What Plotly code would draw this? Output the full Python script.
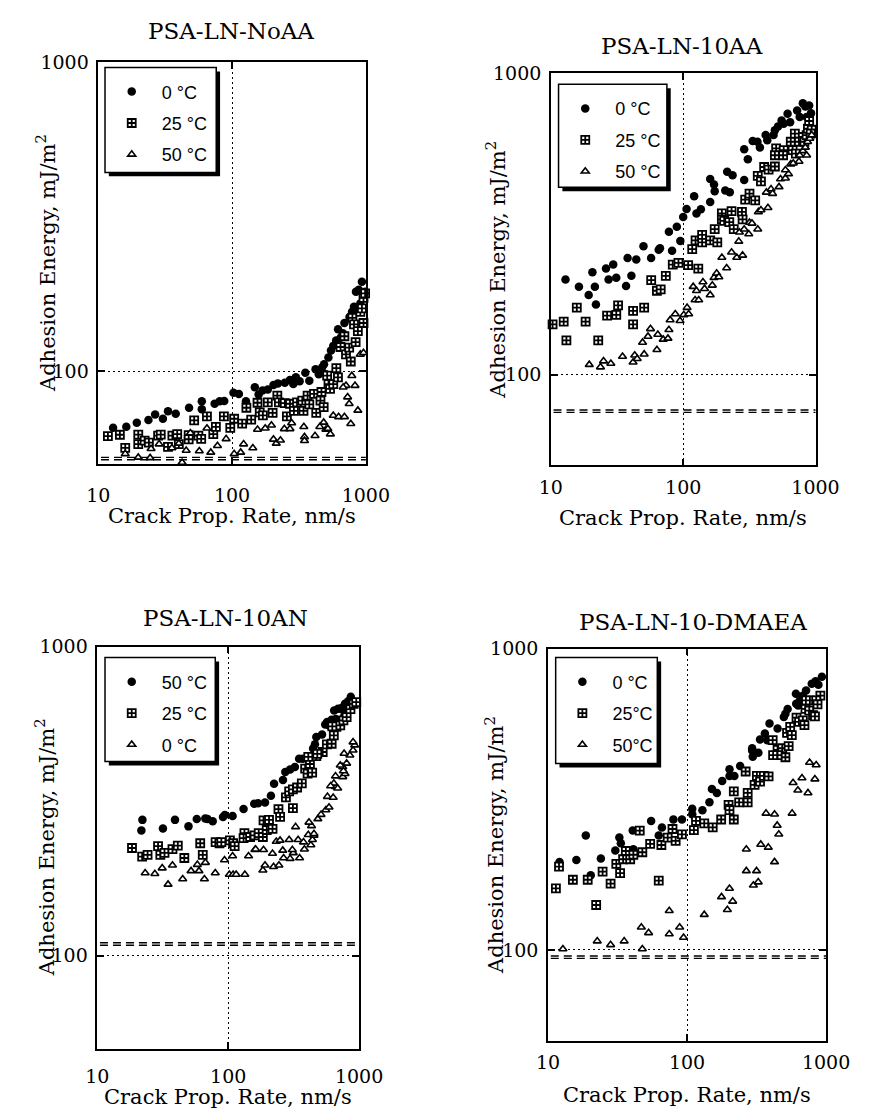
import math
import plotly.graph_objects as go

W, H = 875, 1111

# ---------------- data (x: crack propagation rate nm/s, y: adhesion energy mJ/m^2) ----------------
noaa_0_x = [12.9,16.2,19.4,23.7,26.6,30.4,33.2,37.9,47.7,59.4,59.4,74.1,80.9,87.4,102.5,112.5,127,148,158,169,185,204,220,248,271,287,300,320,353,378,421,445,471,487,503,525,549,571,600,620,648,673,692,755,789,816,844,886,935,961,988,910]
noaa_0_y = [65.7,66.2,68.2,69.7,72.6,70.3,74.3,73.0,76.3,80.1,75.4,78.6,80.1,80.3,85.4,84.6,80.1,88.9,84.2,86.7,87.4,90.4,91.5,92.0,93.8,91.0,95.7,92.9,99.0,93.3,101.7,98.0,103,105.6,98.0,110.9,117,121,126,137,128.5,133,143.5,150,156,162,181,184,195,175,181,166]
noaa_25_x = [11.8,14.5,15.9,19.9,19.9,22.2,23.9,28.0,29.3,33.2,35.8,38.9,40.0,47.4,47.4,56.0,58.8,64.9,52.1,72.4,75.7,86.9,97.0,103.7,119,128,139,155,161,170,185,201,218,224,248,257,271,290,306,335,342,367,378,410,426,458,466,484,514,526,540,571,602,619,647,692,711,751,772,794,816,839,872,910,935,961,988,961]
noaa_25_y = [61.8,62.4,56.6,62.5,58.2,59.7,58.8,62.0,62.5,57.0,62.0,62.7,58.2,60.3,62.2,62.0,60.5,71.6,69.5,62.7,66.2,71.6,65.7,70.3,67.8,76.3,69.8,79.2,73.7,72.1,79.4,73.4,83.5,79.4,79.0,71.6,78.6,74.5,79.4,80.5,74.5,83.5,78.2,84.6,73.4,80.5,85.8,76.7,96.9,91.0,87.8,91.0,102.5,95.7,120,130,113.6,119.4,107.7,149,142,124.5,135,156,160,173,179,143.5]
noaa_50_x = [15.9,19.9,24.4,24.8,28.5,35.5,40.0,42.3,45.4,48.8,56.9,64.9,69.3,77.8,90.3,103.7,116,122,143,155,177,197,204,214,230,246,271,279,344,348,348,417,453,484,503,520,543,571,626,692,711,772,786,677,731,751,830,872,910,961]
noaa_50_y = [54.1,52.7,52.5,56.2,58.2,56.5,58.5,50.7,55.5,63.2,55.3,65.5,54.7,57.5,60.5,54.1,54.7,58.2,56.5,64.9,65.5,67.0,60.3,58.5,59.9,65.2,65.2,68.1,66.2,61.4,59.7,61.9,66.2,68.4,64.9,65.3,62.7,72.0,71.3,71.3,90.0,67.7,96.9,88.9,82.6,78.6,90.0,74.8,113.6,115]

aa_0_x = [12.9,16.3,19.3,20.6,21.5,21.9,26.1,27.3,29.6,31.2,37.0,38.0,40.6,44.2,50.1,57.2,65.3,66.8,82.4,78.0,89.5,95.1,100,106,121,126,136,160,160,171,173,208,215,225,236,289,289,308,335,364,380,420,432,482,493,521,554,575,615,643,726,759,802,838,895,925,857]
aa_0_y = [207,196,184,219,196,171,225,207,232,210,197,244,213,241,267,244,260,263,258,298,310,278,334,355,391,343,354,446,374,428,406,409,472,403,459,443,560,519,597,593,568,624,600,624,647,667,698,681,734,689,753,716,796,776,782,738,716]
aa_25_x = [10.3,12.5,13.1,15.7,18.3,22.8,26.6,31.2,32.2,41.8,41.8,50.7,57.3,63.3,67.6,73.9,83.4,92.1,109,117,124,130,139,139,160,173,181,196,196,204,223,232,241,278,281,294,317,350,366,387,409,442,493,504,493,575,569,671,650,698,750,802,824,857,876,895,936,920,710]
aa_25_y = [147,150,130,167,150,130,157,158,170,163,147,167,206,190,192,213,232,235,231,261,279,225,275,291,279,304,275,343,328,324,321,349,304,347,328,381,399,379,457,438,489,479,491,564,535,556,535,556,593,631,593,615,593,624,655,695,650,631,542]
aa_50_x = [19.5,23.7,25.0,28.4,34.8,41.8,43.0,44.9,50.7,49.3,54.2,56.6,63.3,64.3,70.6,76.7,78.0,79.7,87.1,94.6,101,107,110,119,126,123,131,141,145,160,166,171,179,186,196,213,232,254,281,263,266,289,313,317,331,366,370,387,437,425,461,474,530,544,592,625,592,650,679,750,759,802,838,871,857,906,936]
aa_50_y = [108,106,111,109,115,110,116,113,117,128,134,142,121,136,131,132,141,152,159,151,158,167,159,196,190,177,177,203,193,184,198,210,217,211,245,226,255,245,249,277,297,304,293,320,318,304,347,352,358,403,413,399,420,446,449,464,478,500,503,510,535,553,568,593,535,608,624]

an_50_x = [22.1,21.7,31.7,39.2,49.7,57.5,66.8,69.5,76.1,91.2,94.3,108,131,158,169,191,212,224,262,273,297,323,348,372,445,460,471,521,551,570,617,645,690,722,750,781,826,864,855,817,772,664,590]
an_50_y = [275,254,258,275,262,277,278,277,272,281,285,283,298,310,311,313,329,360,370,393,400,408,434,434,468,483,510,520,560,570,580,621,629,629,637,653,666,689,661,621,599,583,556]
an_25_x = [18.4,22.0,24.2,29.1,30.3,32.6,37.5,41.2,46.2,61.1,63.9,80.1,85.8,88.6,103,109,112,133,131,147,159,171,184,186,197,205,218,242,249,312,276,292,312,336,365,387,404,438,421,471,527,567,617,641,671,718,759,803,859,909,951,409,479,624]
an_25_y = [223,209,212,226,212,215,221,227,207,231,212,233,231,233,236,231,226,249,240,242,245,249,242,274,255,275,257,298,281,300,325,340,345,350,361,403,388,391,417,442,456,483,485,516,550,556,577,591,628,653,661,440,450,552]
an_0_x = [23.2,27.5,31.3,37.5,34.7,44.9,52.0,58.1,59.8,65.8,66.9,79.6,93.7,102,109,115,108,134,160,143,184,191,222,244,265,297,314,351,382,428,440,452,162,186,218,233,249,261,292,309,327,342,376,409,433,452,414,484,512,557,589,573,634,660,641,686,750,781,803,750,850,899,925,899,768,718,660,606,759]
an_0_y = [185,184,192,196,170,177,188,197,188,177,200,185,204,183,183,183,210,183,220,210,189,196,194,196,207,206,215,207,221,228,237,245,221,220,214,234,236,219,237,220,261,237,233,246,263,248,270,277,286,296,302,327,325,352,361,348,379,388,419,408,445,462,480,491,451,413,381,354,396]

dm_0_x = [12.1,16.0,18.7,20.3,24.0,30.5,32.6,33.4,40.7,41.1,55.2,62.6,66.0,79.8,91.9,109,109,129,145,151,164,179,202,202,219,241,294,294,297,326,363,335,378,392,448,497,510,529,607,630,681,718,789,841,933,718,647,610,881]
dm_0_y = [196,199,240,177,201,214,236,226,249,216,268,240,255,271,271,294,282,291,309,342,332,364,398,378,378,408,467,459,438,451,523,499,497,564,543,593,608,631,708,647,698,726,764,779,807,673,673,656,759]
dm_25_x = [11.4,12.0,15.1,19.3,22.2,24.7,28.2,31.0,33.0,34.7,36.3,39.0,41.1,45.7,47.7,54.3,62.6,65.4,72.6,78.6,82.8,91.9,112,116,133,153,176,199,202,217,217,237,273,273,264,318,306,335,357,386,413,448,484,510,538,448,416,524,552,567,613,640,681,699,711,757,718,806,832,910,765,849,868]
dm_25_y = [160,189,171,171,141,182,166,193,180,200,213,200,207,249,211,225,170,223,236,252,230,242,250,268,263,255,271,303,291,271,336,309,309,332,391,378,353,362,378,377,497,461,467,436,475,443,443,525,550,516,590,571,578,557,631,623,673,601,596,698,673,673,653]
dm_50_x = [12.8,22.6,28.2,35.3,46.9,47.7,52.9,74.5,74.5,88.5,94.4,133,177,195,202,213,267,267,300,316,325,339,384,426,370,426,445,457,570,579,627,671,741,761,831,849]
dm_50_y = [100.8,107,104,107,119,100.8,114,135,113,119,110,131,150,136,160,145,216,183,164,183,168,224,219,196,284,282,259,242,284,359,339,372,332,419,369,411]

# reference (dashed) levels per panel
ref_levels = [[52.7, 51.8], [76.4, 75.0], [110, 108], [95.5, 93.8]]

titles = ["PSA-LN-NoAA", "PSA-LN-10AA", "PSA-LN-10AN", "PSA-LN-10-DMAEA"]
x_ticks = [10, 100, 1000]
x_ticktext = ["10", "100", "1000"]
y_ticks = [100, 1000]
y_ticktext = ["100", "1000"]

panels = [
    dict(series=[(noaa_0_x, noaa_0_y, "0 °C", "circle"),
                 (noaa_25_x, noaa_25_y, "25 °C", "square"),
                 (noaa_50_x, noaa_50_y, "50 °C", "triangle")]),
    dict(series=[(aa_0_x, aa_0_y, "0 °C", "circle"),
                 (aa_25_x, aa_25_y, "25 °C", "square"),
                 (aa_50_x, aa_50_y, "50 °C", "triangle")]),
    dict(series=[(an_50_x, an_50_y, "50 °C", "circle"),
                 (an_25_x, an_25_y, "25 °C", "square"),
                 (an_0_x, an_0_y, "0 °C", "triangle")]),
    dict(series=[(dm_0_x, dm_0_y, "0 °C", "circle"),
                 (dm_25_x, dm_25_y, "25°C", "square"),
                 (dm_50_x, dm_50_y, "50°C", "triangle")]),
]

# ---------------- layout geometry (pixels) ----------------
plot_px = [(90, 369, 52, 458), (562, 838, 63, 459), (89, 362, 642, 1048), (559, 849, 644, 1040)]
legend_box = [(97, 213, 57, 163), (570, 683, 74, 178), (97, 212, 653, 758), (567, 673, 653, 760)]
title_pos = [(228, 20), (699, 35), (223, 613), (710, 617)]
xlabel_y = [510, 512, 1097, 1095]
ylabel_x = [36, 505, 34, 503]
xtick_standoff = [13, 4, 10, 4]


def fx(p):
    return p / W


def fy(p):
    return 1 - p / H


SERIF = "DejaVu Serif"
SANS = "Liberation Sans"

fig = go.Figure()

marker_styles = {
    "circle": dict(symbol="circle", size=8.5, color="black", line=dict(width=0)),
    "square": dict(symbol="square-cross", size=8, color="white", line=dict(color="black", width=1.8)),
    "triangle": dict(symbol="triangle-up", size=7, color="white", line=dict(color="black", width=1.6)),
}

shapes = []
annotations = []
layout_axes = {}

for i, (pnl, (x0, x1, y0, y1)) in enumerate(zip(panels, plot_px)):
    n = i + 1
    xa = "x" if n == 1 else f"x{n}"
    ya = "y" if n == 1 else f"y{n}"
    leg = "legend" if n == 1 else f"legend{n}"
    for k, (xs, ys, name, mk) in enumerate(pnl["series"]):
        fig.add_trace(go.Scatter(
            x=xs, y=ys, mode="markers", name="\u00a0\u00a0" + name,
            marker=marker_styles[mk], xaxis=xa, yaxis=ya,
            legend=leg, legendgroup=f"p{n}s{k}", showlegend=True,
            cliponaxis=False,
        ))
    axis_common = dict(
        type="log", showline=True, linecolor="black", linewidth=1.5, mirror="allticks",
        ticks="inside", ticklen=7, tickwidth=1.5, tickcolor="black",
        showgrid=True, gridcolor="black", gridwidth=1, griddash="2px,3px",
        zeroline=False, tickfont=dict(family=SERIF, size=19, color="black"),
        tickmode="array",
    )
    layout_axes["xaxis" if n == 1 else f"xaxis{n}"] = dict(
        axis_common, domain=[fx(x0), fx(x1)], range=[1, 3], anchor=ya,
        tickvals=x_ticks, ticktext=x_ticktext, ticklabelstandoff=xtick_standoff[i])
    layout_axes["yaxis" if n == 1 else f"yaxis{n}"] = dict(
        axis_common, domain=[fy(y1), fy(y0)], range=[math.log10(50), 3], anchor=xa,
        tickvals=y_ticks, ticktext=y_ticktext, ticklabelstandoff=4)

    # dashed reference levels
    for lv in ref_levels[i]:
        shapes.append(dict(type="line", xref=f"{xa} domain", x0=0.01, x1=1, yref=ya, y0=lv, y1=lv,
                           line=dict(color="black", width=1.4, dash="8px,5px")))

    # legend box with shadow
    bx0, bx1, by0, by1 = legend_box[i]
    shapes.append(dict(type="rect", xref="paper", yref="paper", x0=fx(bx0 + 4), x1=fx(bx1 + 4),
                       y0=fy(by1 + 4), y1=fy(by0 + 4), fillcolor="black", line=dict(width=0), layer="above"))
    shapes.append(dict(type="rect", xref="paper", yref="paper", x0=fx(bx0), x1=fx(bx1),
                       y0=fy(by1), y1=fy(by0), fillcolor="white", line=dict(color="black", width=1.5),
                       layer="above"))
    layout_axes[leg] = dict(
        x=fx(bx0 + 7), y=fy(by0 + 6), xanchor="left", yanchor="top",
        bgcolor="rgba(0,0,0,0)", borderwidth=0, tracegroupgap=5,
        font=dict(family=SANS, size=18, color="black"), itemwidth=30,
    )

    # title
    tx, ty = title_pos[i]
    annotations.append(dict(text=titles[i], x=fx(tx), y=fy(ty), xref="paper", yref="paper",
                            showarrow=False, xanchor="center", yanchor="middle",
                            font=dict(family=SERIF, size=23, color="black")))
    # x label
    annotations.append(dict(text="Crack Prop. Rate, nm/s", x=fx((x0 + x1) / 2), y=fy(xlabel_y[i]),
                            xref="paper", yref="paper", showarrow=False, xanchor="center", yanchor="middle",
                            font=dict(family=SERIF, size=21, color="black")))
    # y label
    annotations.append(dict(text="Adhesion Energy, mJ/m<sup>2</sup>", x=fx(ylabel_x[i]), y=fy((y0 + y1) / 2),
                            xref="paper", yref="paper", showarrow=False, xanchor="center", yanchor="middle",
                            textangle=-90, font=dict(family=SERIF, size=21, color="black")))

fig.update_layout(
    width=W, height=H, margin=dict(l=0, r=0, t=0, b=0),
    paper_bgcolor="white", plot_bgcolor="white",
    shapes=shapes, annotations=annotations, showlegend=True,
    **layout_axes,
)

fig.write_html("out.html")
